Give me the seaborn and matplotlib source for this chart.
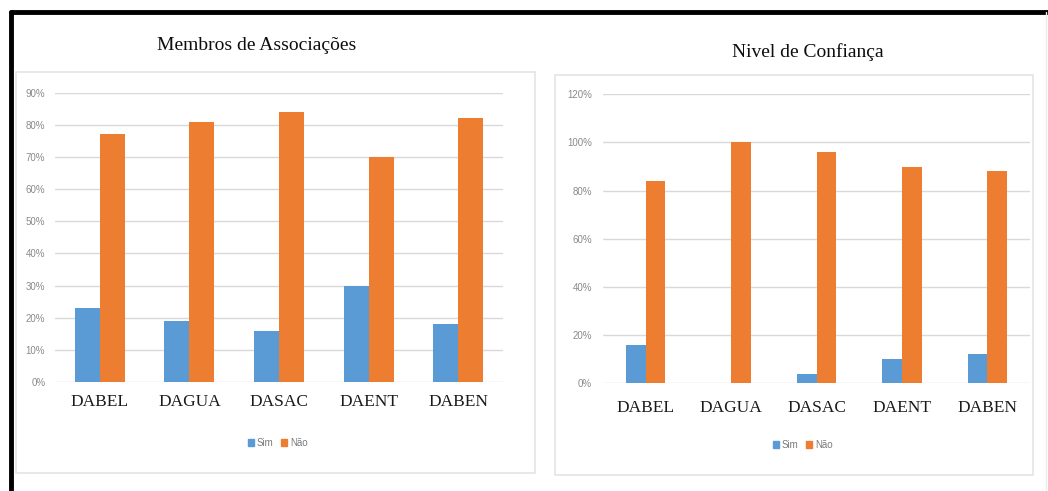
import numpy as np
import pandas as pd
import matplotlib
matplotlib.use("Agg")
import matplotlib.pyplot as plt
from matplotlib.patches import Rectangle, Patch
from matplotlib.lines import Line2D
from matplotlib.ticker import PercentFormatter, MultipleLocator
import seaborn as sns

sns.set_style('white')
plt.rcParams['font.family'] = ['Liberation Sans', 'DejaVu Sans']

# data (percent)
categories = ["DABEL", "DAGUA", "DASAC", "DAENT", "DABEN"]
series = ["Sim", "Não"]
membros_sim = [23, 19, 16, 30, 18]
membros_nao = [77, 81, 84, 70, 82]
confianca_sim = [16, 0, 4, 10, 12]
confianca_nao = [84, 100, 96, 90, 88]

colors = ["#5B9BD5", "#ED7D31"]
W, H = 1048, 491


def fx(px):
    return px / W


def fy(py):
    return 1 - py / H


def long_df(sim, nao):
    return pd.DataFrame({
        "cat": categories * 2,
        "serie": [series[0]] * len(sim) + [series[1]] * len(nao),
        "val": list(sim) + list(nao),
    })


fig = plt.figure(figsize=(W / 100, H / 100), dpi=100)
fig.patch.set_facecolor("white")

# outer black frame (top and left) and the two light panel boxes
fig.add_artist(Line2D([fx(11), fx(W)], [fy(12), fy(12)], color="black", lw=3.5))
fig.add_artist(Line2D([fx(11), fx(11)], [fy(12), fy(H)], color="black", lw=3.5))
fig.add_artist(Line2D([fx(1046), fx(1046)], [fy(12), fy(H)], color="#ececec", lw=1))
for x0, y0, x1, y1 in [(16, 72, 535, 473), (555, 75, 1033, 475)]:
    fig.add_artist(Rectangle((fx(x0), fy(y1)), fx(x1) - fx(x0), fy(y0) - fy(y1),
                             fill=False, ec="#e4e4e4", lw=1.2))


def draw(box, sim, nao, ymax, step, width, title, title_xy, legend_xy, xpad, ypad):
    x0, y0, x1, y1 = box
    ax = fig.add_axes([fx(x0), fy(y1), fx(x1) - fx(x0), fy(y0) - fy(y1)])
    df = long_df(sim, nao)
    sns.barplot(data=df, x="cat", y="val", hue="serie", palette=colors,
                saturation=1, width=width, gap=0, linewidth=0, ax=ax, legend=False)
    ax.set_ylim(0, ymax)
    ax.set_xlim(-0.5, len(categories) - 0.5)
    ax.yaxis.set_major_locator(MultipleLocator(step))
    ax.yaxis.set_major_formatter(PercentFormatter(100, decimals=0))
    ax.grid(axis="y", color="#d9d9d9", lw=1)
    ax.set_axisbelow(True)
    for s in ax.spines.values():
        s.set_visible(False)
    ax.set_xlabel("")
    ax.set_ylabel("")
    ax.tick_params(axis="y", length=0, pad=ypad, labelsize=7, labelcolor="#8a8a8a")
    ax.tick_params(axis="x", length=0, pad=xpad)
    for lab in ax.get_xticklabels():
        lab.set_fontfamily("Liberation Serif")
        lab.set_fontsize(12.5)
        lab.set_color("#1a1a1a")
    ax.patch.set_alpha(0)
    fig.text(fx(title_xy[0]), fy(title_xy[1]), title, ha="center", va="center",
             family="Liberation Serif", fontsize=14, color="#0d0d0d")
    handles = [Patch(color=c, label=s) for c, s in zip(colors, series)]
    leg = fig.legend(handles=handles, loc="center", ncol=2, frameon=False,
                     bbox_to_anchor=(fx(legend_xy[0]), fy(legend_xy[1])),
                     fontsize=7, handlelength=0.6, handleheight=0.6,
                     handletextpad=0.3, columnspacing=0.8)
    for t in leg.get_texts():
        t.set_color("#7a7a7a")
    return ax


draw((55, 92.7, 503, 382), membros_sim, membros_nao, 90, 10, 0.56,
     "Membros de Associações", (257, 45), (278, 443), 9, 7)
draw((603, 94.3, 1030, 383.3), confianca_sim, confianca_nao, 120, 20, 0.46,
     "Nivel de Confiança", (808, 52), (803, 445), 12, 8)

fig.savefig("out.png", dpi=100, facecolor="white")
